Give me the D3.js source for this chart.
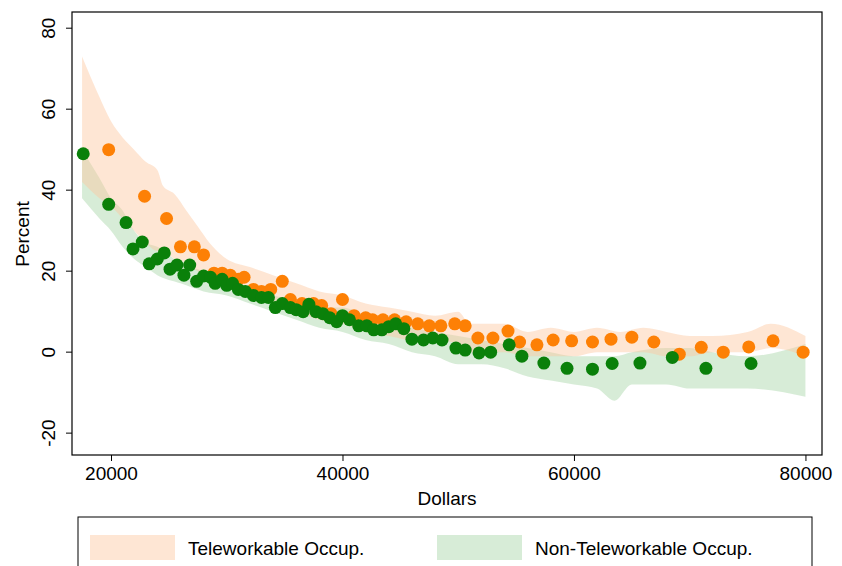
<!DOCTYPE html>
<html><head><meta charset="utf-8">
<script src="https://cdn.jsdelivr.net/npm/d3@7"></script>
<style>body{margin:0;background:#fff}svg{font-family:"Liberation Sans",Arial,sans-serif}</style>
</head><body><svg id="chart" width="842" height="566"></svg>
<script>
const teleX = [19800,22900,24800,26000,27200,28000,28900,29600,30300,31000,31500,32300,33000,33800,34800,35500,36500,37500,38200,39000,40000,41000,42000,42600,43500,44500,45500,46500,47500,48500,49700,50600,51700,53000,54300,55300,56800,58200,59800,61600,63200,65000,66900,69100,71000,72900,75100,77200,79800];
const teleY = [50,38.5,33,26,26,24,19.5,19.5,19,18,18.5,15.5,15,15.5,17.5,13,12,12,11.5,9.5,13,9,8.5,8,8,8,7.5,7,6.5,6.5,7,6.5,3.5,3.5,5.2,2.5,1.8,3,2.8,2.5,3.2,3.7,2.5,-0.5,1.2,0,1.3,2.8,0];
const nonX = [17600,19800,21300,21900,22700,23300,24000,24600,25100,25700,26300,26800,27400,28000,28600,29000,29600,30000,30500,31000,31600,32300,33000,33600,34200,34800,35500,36000,36600,37100,37700,38300,38900,39500,40000,40600,41400,42100,42700,43400,44000,44600,45300,46000,47000,47800,48600,49800,50600,51800,52800,54400,55500,57400,59400,61600,63300,65700,68500,71400,75300];
const nonY = [49,36.5,32,25.5,27.2,21.8,23,24.5,20.5,21.5,19,21.5,17.5,18.8,18.5,17,18,16.5,17,15.5,15,14,13.5,13.5,11,12,11,10.5,10,11.8,10,9.5,8.5,7.5,9,8,6.5,6.5,5.5,5.5,6.3,7,5.8,3.2,3,3.5,3,1,0.5,-0.2,0,1.8,-1,-2.7,-4,-4.2,-2.8,-2.7,-1.3,-4,-2.8];
const teleBandX = [17500,19000,20000,21000,22000,23000,24000,24500,25500,26500,27500,28500,30000,32000,34000,36000,38000,40000,42000,44000,46000,48000,50000,51000,54000,56000,58000,60000,62000,64000,66000,68000,70000,72000,75000,77000,80000];
const teleLo = [42,38,36,33,30,27,25,25,23,22,20,19,17,14,12,10,8,7,5,4,3,3,2,0,0,-1,-1,-1,0,0,0,-1,-1,0,0,1,-1];
const teleHi = [73,63,57,53,50,47,45,41,39,35,31,27,23,21,19,17,15,14,12,11,10,9,10,7,7,5,6,5,6,5,6,5,4,4,5,7,4];
const nonBandX = [17500,19000,20000,21000,22000,23000,24000,26000,28000,30000,32000,34000,36000,38000,40000,42000,44000,46000,48000,50000,52000,54000,56000,58000,60000,62000,63500,65000,68000,70000,72000,75000,80000];
const nonLo = [38,33,30,26,23,21,19,17,15,14,12,10,8,6,5,3,2,0,-1,-3,-3,-4,-6,-7,-8,-9,-12,-8,-8,-9,-9,-9,-11];
const nonHi = [50,43,38,35,30,27,26,22,20,18,16,14,13,11,11,9,8,6,5,4,3,2,1,0,-1,-1,-1,0,1,1,0,-1,2];
const xTicks = [20000,40000,60000,80000];
const yTicks = [-20,0,20,40,60,80];

const L = 72, R = 822, T = 12, B = 455;
const x = d3.scaleLinear().domain([16630,81430]).range([L,R]);
const y = d3.scaleLinear().domain([84,-25.4]).range([T,B]);
const svg = d3.select("#chart");

function band(bx, lo, hi, fill) {
  const a = d3.area().curve(d3.curveMonotoneX)
    .x((d,i) => x(bx[i])).y0((d,i) => y(lo[i])).y1((d,i) => y(hi[i]));
  svg.append("path").datum(bx).attr("d", a).attr("fill", fill);
}
band(nonBandX, nonLo, nonHi, "rgba(140,200,140,0.35)");
band(teleBandX, teleLo, teleHi, "rgba(253,200,160,0.45)");

function dots(xs, ys, c) {
  svg.append("g").selectAll("circle").data(xs).join("circle")
    .attr("cx", (d) => x(d)).attr("cy", (d,i) => y(ys[i])).attr("r", 6.5).attr("fill", c);
}
dots(teleX, teleY, "#fd8005");
dots(nonX, nonY, "#0a800a");

svg.append("rect").attr("x", L).attr("y", T).attr("width", R-L).attr("height", B-T)
  .attr("fill", "none").attr("stroke", "#000").attr("stroke-width", 1.2);

const xa = svg.append("g").attr("transform", "translate(0," + B + ")")
  .call(d3.axisBottom(x).tickValues(xTicks).tickFormat(d3.format("d")).tickSizeOuter(0).tickSize(6));
xa.select(".domain").remove();
xa.selectAll("text").attr("font-size", 19).attr("fill", "#000").attr("dy", "0.85em");
const ya = svg.append("g").attr("transform", "translate(" + L + ",0)")
  .call(d3.axisLeft(y).tickValues(yTicks).tickSize(6).tickFormat((d) => String(d)));
ya.select(".domain").remove();
ya.selectAll("text").attr("font-size", 19).attr("fill", "#000")
  .attr("x", 0).attr("y", 0).attr("dy", null)
  .attr("text-anchor", "middle")
  .attr("transform", (d) => "translate(-17," + y(d) + ") rotate(-90)");
ya.selectAll(".tick").attr("transform", null);
ya.selectAll(".tick line").attr("transform", (d) => "translate(0," + y(d) + ")");

svg.append("text").attr("x", 447).attr("y", 505).attr("text-anchor", "middle")
  .attr("font-size", 19).text("Dollars");
svg.append("text").attr("transform", "translate(29,234) rotate(-90)").attr("text-anchor", "middle")
  .attr("font-size", 19).text("Percent");

svg.append("rect").attr("x", 78).attr("y", 517).attr("width", 734).attr("height", 60)
  .attr("fill", "none").attr("stroke", "#000").attr("stroke-width", 1);
const leg = [["Teleworkable Occup.", "rgba(253,200,160,0.45)", 90], ["Non-Teleworkable Occup.", "rgba(140,200,140,0.35)", 437]];
leg.forEach(([t, c, lx]) => {
  svg.append("rect").attr("x", lx).attr("y", 535).attr("width", 85).attr("height", 25).attr("fill", c);
  svg.append("text").attr("x", lx + 98).attr("y", 555).attr("font-size", 19).text(t);
});
</script></body></html>
